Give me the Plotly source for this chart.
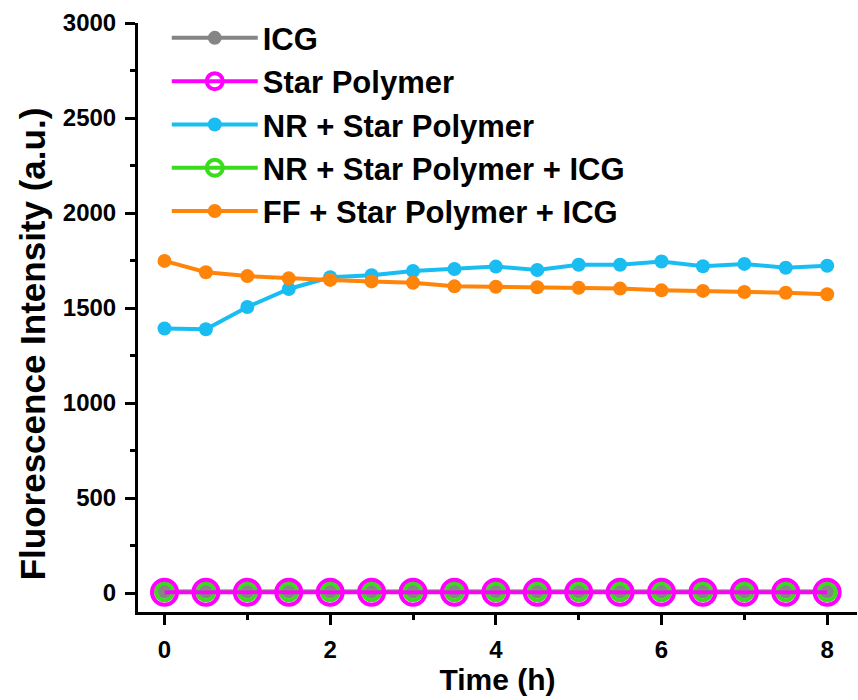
import plotly.graph_objects as go

# Sampling times (h)
time_h = [0, 0.5, 1, 1.5, 2, 2.5, 3, 3.5, 4, 4.5, 5, 5.5, 6, 6.5, 7, 7.5, 8]

# Fluorescence intensity (a.u.) for each formulation
icg = [8, 8, 7, 8, 8, 7, 8, 8, 7, 8, 8, 7, 8, 8, 7, 8, 8]
star_polymer = [4, 4, 4, 4, 4, 4, 4, 4, 4, 4, 4, 4, 4, 4, 4, 4, 4]
nr_star = [1392, 1388, 1505, 1600, 1662, 1672, 1695, 1705, 1718, 1700, 1728, 1728, 1745, 1720, 1732, 1712, 1722]
nr_star_icg = [6, 6, 6, 6, 6, 6, 6, 6, 6, 6, 6, 6, 6, 6, 6, 6, 6]
ff_star_icg = [1748, 1688, 1668, 1656, 1648, 1640, 1633, 1614, 1612, 1609, 1606, 1602, 1593, 1590, 1584, 1580, 1572]

font_family = "Liberation Sans, Arial, sans-serif"

fig = go.Figure()

# bottom group: gray filled, green ring, magenta ring on top
fig.add_trace(go.Scatter(
    x=time_h, y=icg, name="<b>ICG</b>", mode="lines+markers",
    line=dict(color="#858585", width=4),
    marker=dict(symbol="circle", size=14, color="#858585"),
    legendrank=1,
))
fig.add_trace(go.Scatter(
    x=time_h, y=nr_star_icg, name="<b>NR + Star Polymer + ICG</b>", mode="lines+markers",
    line=dict(color="#3BDB1E", width=4),
    marker=dict(symbol="circle-open", size=17, color="#3BDB1E", line=dict(width=4)),
    legendrank=4,
))
fig.add_trace(go.Scatter(
    x=time_h, y=star_polymer, name="<b>Star Polymer</b>", mode="lines+markers",
    line=dict(color="#FF00FF", width=4),
    marker=dict(symbol="circle-open", size=25, color="#FF00FF", line=dict(width=4)),
    legendrank=2,
))
fig.add_trace(go.Scatter(
    x=time_h, y=nr_star, name="<b>NR + Star Polymer</b>", mode="lines+markers",
    line=dict(color="#19BDF2", width=4),
    marker=dict(symbol="circle", size=14, color="#19BDF2"),
    legendrank=3,
))
fig.add_trace(go.Scatter(
    x=time_h, y=ff_star_icg, name="<b>FF + Star Polymer + ICG</b>", mode="lines+markers",
    line=dict(color="#FF840A", width=4),
    marker=dict(symbol="circle", size=14, color="#FF840A"),
    legendrank=5,
))

axis_common = dict(
    showline=True, linecolor="black", linewidth=3,
    ticks="outside", ticklen=10, tickwidth=3, tickcolor="black",
    showgrid=False, zeroline=False, mirror=False,
    tickfont=dict(family=font_family, size=24, color="black", weight="bold"),
)

fig.update_xaxes(
    range=[-0.32, 8.36], tickvals=[0, 2, 4, 6, 8],
    minor=dict(ticks="outside", ticklen=5, tickwidth=3, tickcolor="black", dtick=1, tick0=0),
    ticklabelstandoff=4,
    title=dict(text="<b>Time (h)</b>", font=dict(family=font_family, size=30, color="black"), standoff=4),
    **axis_common,
)
fig.update_yaxes(
    range=[-100, 3000], tickvals=[0, 500, 1000, 1500, 2000, 2500, 3000],
    minor=dict(ticks="outside", ticklen=5, tickwidth=3, tickcolor="black", dtick=250, tick0=0),
    ticklabelstandoff=4,
    **axis_common,
)

# y-axis title placed as a rotated annotation
fig.add_annotation(
    text="<b>Fluorescence Intensity (a.u.)</b>", textangle=-90,
    xref="paper", yref="paper", x=-0.147, y=0.455,
    xanchor="center", yanchor="middle", showarrow=False,
    font=dict(family=font_family, size=35, color="black"),
)

fig.update_layout(
    width=858, height=700,
    margin=dict(l=138, r=1, t=23, b=88),
    plot_bgcolor="white", paper_bgcolor="white",
    font=dict(family=font_family, color="black"),
    legend=dict(
        x=0.04, y=1.02, xanchor="left", yanchor="top",
        font=dict(family=font_family, size=31, color="black"),
        bgcolor="rgba(0,0,0,0)", itemwidth=86, tracegroupgap=0,
        traceorder="normal",
    ),
)

fig.write_html("out.html")
